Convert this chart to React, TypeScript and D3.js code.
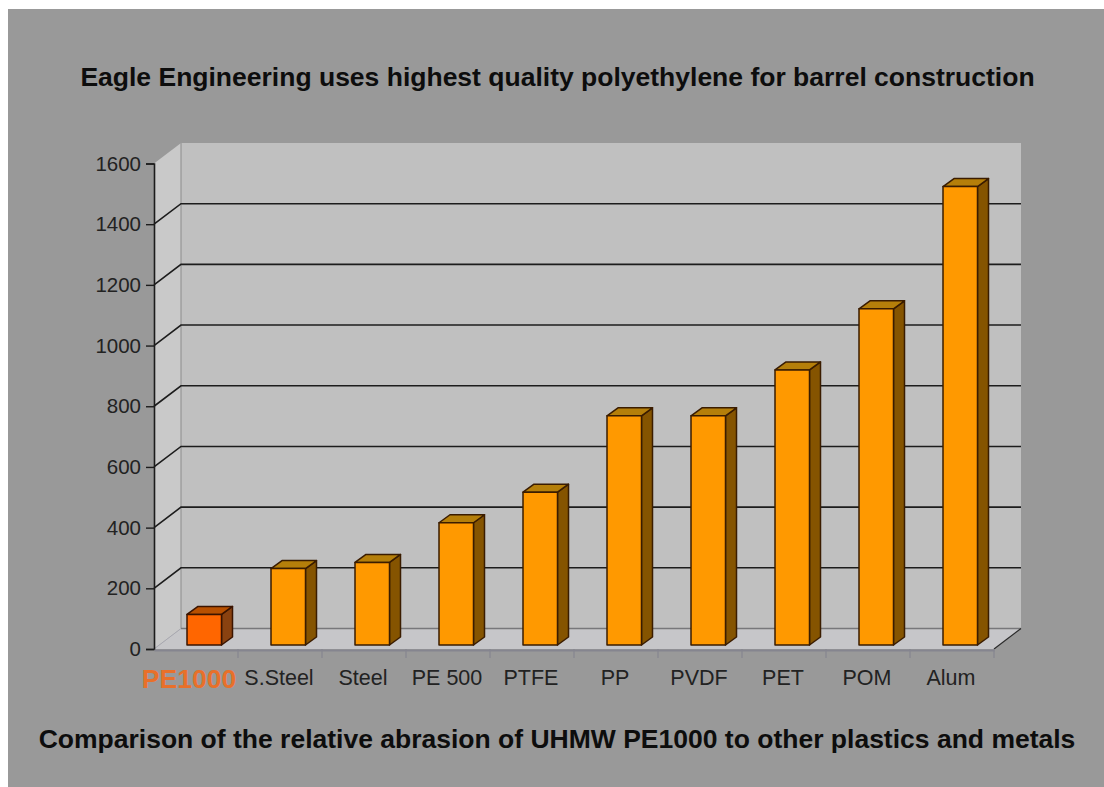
import { useRef, useEffect } from "react";
import * as d3 from "d3";

const categories = ["PE1000", "S.Steel", "Steel", "PE 500", "PTFE", "PP", "PVDF", "PET", "POM", "Alum"];
const abrasion = [100, 250, 270, 400, 500, 750, 750, 900, 1100, 1500];
const yTicks = [0, 200, 400, 600, 800, 1000, 1200, 1400, 1600];

const TITLE = "Eagle Engineering uses highest quality polyethylene for barrel construction";
const FOOTER = "Comparison of the relative abrasion of UHMW PE1000 to other plastics and metals";

const WIDTH = 1104;
const HEIGHT = 787;
const FONT = "'Liberation Sans', Arial, sans-serif";

// front plane of the plot and how far the back wall is pushed away
const LEFT = 154;
const RIGHT = 994;
const BOTTOM = 649;
const TOP = 163.5;
const DEPTH_X = 27;
const DEPTH_Y = -20.5;

// bar box
const BAR_OFFSET = 33;
const BAR_W = 34.5;
const BAR_DX = 11;
const BAR_DY = -8;

function poly(pts: [number, number][]): string {
  return pts.map((p) => p.join(",")).join(" ");
}

function renderChart(svg: SVGSVGElement): void {
  const root = d3.select(svg);
  root.selectAll("*").remove();

  const x = d3.scaleBand().domain(categories).range([LEFT, RIGHT]);
  const y = d3.scaleLinear().domain([0, 1600]).range([BOTTOM, TOP]);
  // bars stand a little in front of the back wall, so their own baseline
  const yBar = d3.scaleLinear().domain([0, 1600]).range([645, 156]);

  root.append("rect").attr("x", 8).attr("y", 9).attr("width", WIDTH - 8).attr("height", HEIGHT - 9).attr("fill", "#999999");

  // Walls and floor
  root.append("polygon")
    .attr("points", poly([[LEFT + DEPTH_X, TOP + DEPTH_Y], [RIGHT + DEPTH_X, TOP + DEPTH_Y], [RIGHT + DEPTH_X, BOTTOM + DEPTH_Y], [LEFT + DEPTH_X, BOTTOM + DEPTH_Y]]))
    .attr("fill", "#c0c0c0");
  root.append("polygon")
    .attr("points", poly([[LEFT, TOP], [LEFT + DEPTH_X, TOP + DEPTH_Y], [LEFT + DEPTH_X, BOTTOM + DEPTH_Y], [LEFT, BOTTOM]]))
    .attr("fill", "#c9c9c9");
  root.append("polygon")
    .attr("points", poly([[LEFT, BOTTOM], [LEFT + DEPTH_X, BOTTOM + DEPTH_Y], [RIGHT + DEPTH_X, BOTTOM + DEPTH_Y], [RIGHT, BOTTOM]]))
    .attr("fill", "#c6c6c9");

  // Wall edges
  root.append("line")
    .attr("x1", LEFT + DEPTH_X).attr("x2", LEFT + DEPTH_X)
    .attr("y1", TOP + DEPTH_Y).attr("y2", BOTTOM + DEPTH_Y)
    .attr("stroke", "#8c8c8c");
  root.append("line")
    .attr("x1", LEFT).attr("x2", LEFT + DEPTH_X)
    .attr("y1", BOTTOM).attr("y2", BOTTOM + DEPTH_Y)
    .attr("stroke", "#a8a8b0");

  // Grid lines
  const grid = root.append("g");
  yTicks.slice(1, -1).forEach((t) => {
    grid.append("polyline")
      .attr("points", poly([[LEFT, y(t)], [LEFT + DEPTH_X, y(t) + DEPTH_Y], [RIGHT + DEPTH_X, y(t) + DEPTH_Y]]))
      .attr("fill", "none")
      .attr("stroke", "#1c1c1c")
      .attr("stroke-width", 1.6);
  });
  root.append("line")
    .attr("x1", LEFT + DEPTH_X).attr("x2", RIGHT + DEPTH_X)
    .attr("y1", BOTTOM + DEPTH_Y).attr("y2", BOTTOM + DEPTH_Y)
    .attr("stroke", "#77777a")
    .attr("stroke-width", 1.4);
  root.append("line")
    .attr("x1", RIGHT).attr("x2", RIGHT + DEPTH_X)
    .attr("y1", BOTTOM).attr("y2", BOTTOM + DEPTH_Y)
    .attr("stroke", "#2a2a2a")
    .attr("stroke-width", 1.2);

  // Y axis
  const yAxis = root.append("g")
    .attr("transform", `translate(${LEFT},0)`)
    .call(d3.axisLeft(y).tickValues(yTicks).tickSize(8).tickPadding(5).tickFormat((d) => String(d)));
  yAxis.select(".domain").attr("stroke", "#1c1c1c").attr("stroke-width", 1.6);
  yAxis.selectAll(".tick line").attr("stroke", "#1c1c1c").attr("stroke-width", 1.4);
  yAxis.selectAll("text")
    .attr("fill", "#222222")
    .attr("font-size", 20.5)
    .attr("font-family", FONT);

  // X axis
  const xAxis = root.append("g")
    .attr("transform", `translate(0,${BOTTOM + 1})`)
    .call(d3.axisBottom(x).tickValues([]).tickSize(0));
  xAxis.select(".domain").attr("stroke", "#85858f").attr("stroke-width", 2);
  categories.forEach((c, i) => {
    const bx = x(c) ?? 0;
    root.append("line")
      .attr("x1", bx + x.bandwidth()).attr("x2", bx + x.bandwidth())
      .attr("y1", BOTTOM).attr("y2", BOTTOM + 9)
      .attr("stroke", "#85858f")
      .attr("stroke-width", 1.2);
    const first = i === 0;
    root.append("text")
      .attr("x", first ? bx + 35 : bx + x.bandwidth() / 2 - 1)
      .attr("y", first ? 688 : 685)
      .attr("text-anchor", "middle")
      .attr("fill", first ? "#e8702a" : "#222222")
      .attr("font-size", first ? 26.5 : 21.5)
      .attr("font-weight", first ? 700 : 400)
      .attr("font-family", FONT)
      .text(c);
  });

  // Bars
  categories.forEach((c, i) => {
    const bx = (x(c) ?? 0) + BAR_OFFSET;
    const top = yBar(abrasion[i]);
    const base = yBar(0);
    const highlight = i === 0;
    const g = root.append("g").attr("stroke", highlight ? "#3a1400" : "#3a1c00").attr("stroke-width", 1.5).attr("stroke-linejoin", "round");
    g.append("polygon")
      .attr("points", poly([[bx + BAR_W, top], [bx + BAR_W + BAR_DX, top + BAR_DY], [bx + BAR_W + BAR_DX, base + BAR_DY], [bx + BAR_W, base]]))
      .attr("fill", highlight ? "#8a4210" : "#855400");
    g.append("polygon")
      .attr("points", poly([[bx, top], [bx + BAR_DX, top + BAR_DY], [bx + BAR_W + BAR_DX, top + BAR_DY], [bx + BAR_W, top]]))
      .attr("fill", highlight ? "#b85000" : "#b57f0a");
    g.append("rect")
      .attr("x", bx)
      .attr("y", top)
      .attr("width", BAR_W)
      .attr("height", base - top)
      .attr("fill", highlight ? "#ff6600" : "#ff9900");
  });

  // Titles
  root.append("text")
    .attr("x", 557.5).attr("y", 86)
    .attr("text-anchor", "middle")
    .attr("fill", "#0d0d0d")
    .attr("font-size", 26.5)
    .attr("font-weight", 700)
    .attr("font-family", FONT)
    .text(TITLE);
  root.append("text")
    .attr("x", 557).attr("y", 748)
    .attr("text-anchor", "middle")
    .attr("fill", "#0d0d0d")
    .attr("font-size", 26.5)
    .attr("font-weight", 700)
    .attr("font-family", FONT)
    .text(FOOTER);
}

export default function App() {
  const svgRef = useRef<SVGSVGElement>(null);

  useEffect(() => {
    if (svgRef.current) renderChart(svgRef.current);
  }, []);

  return (
    <svg
      ref={svgRef}
      width={WIDTH}
      height={HEIGHT}
      style={{ position: "absolute", left: 0, top: 0 }}
    />
  );
}
